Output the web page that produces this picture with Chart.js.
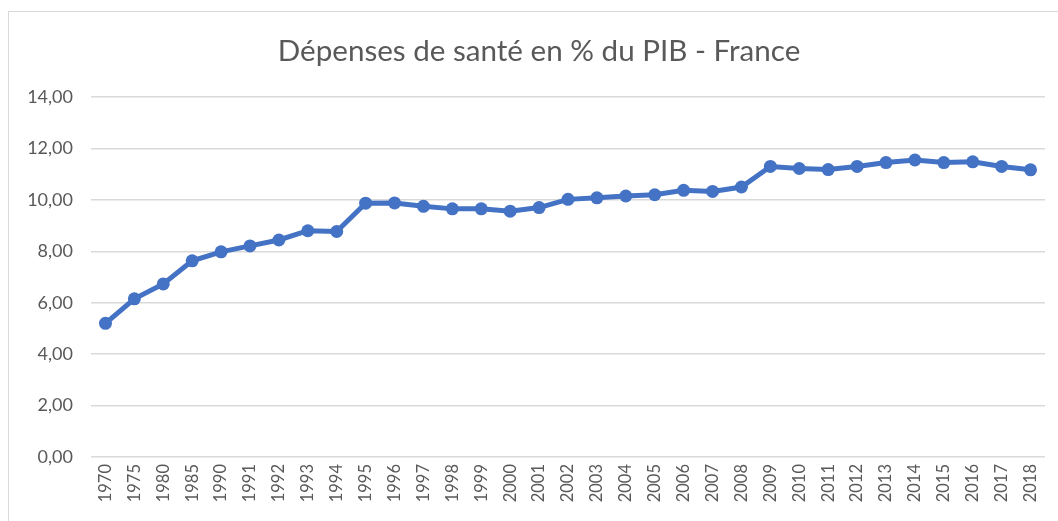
<!DOCTYPE html>
<html>
<head>
<meta charset="utf-8">
<script src="https://cdn.jsdelivr.net/npm/chart.js@4"></script>
<style>
  html, body { margin: 0; padding: 0; background: #fff; overflow: hidden; }
  #frame { position: absolute; left: 8px; top: 11px; width: 1200px; height: 700px; border: 1px solid #d9d9d9; box-sizing: border-box; }
  #wrap { position: absolute; left: 0; top: 0; width: 1058px; height: 521px; }
</style>
</head>
<body>
<div id="frame"></div>
<div id="wrap"><canvas id="c" width="1058" height="521"></canvas></div>
<script>
const titleText = "Dépenses de santé en % du PIB - France";
const years = ["1970","1975","1980","1985","1990","1991","1992","1993","1994","1995","1996","1997","1998","1999","2000","2001","2002","2003","2004","2005","2006","2007","2008","2009","2010","2011","2012","2013","2014","2015","2016","2017","2018"];
const healthSpending = [5.2,6.15,6.73,7.63,7.98,8.21,8.44,8.8,8.77,9.87,9.88,9.75,9.65,9.65,9.56,9.7,10.02,10.08,10.15,10.2,10.37,10.33,10.5,11.3,11.22,11.18,11.3,11.45,11.55,11.45,11.48,11.3,11.17];
const yMin = 0, yMax = 14, yStep = 2;

const gray = '#595959';
const fontFam = 'Lato, "Open Sans", sans-serif';

const titleShift = {
  id: 'titleShift',
  afterLayout(chart) {
    if (chart.titleBlock) { chart.titleBlock.left = 33; }
  }
};

new Chart(document.getElementById('c'), {
  type: 'line',
  data: {
    labels: years,
    datasets: [{
      data: healthSpending,
      borderColor: '#4472C4',
      backgroundColor: '#4472C4',
      borderWidth: 5,
      pointRadius: 6.5,
      pointHoverRadius: 6.5,
      pointBackgroundColor: '#4472C4',
      pointBorderWidth: 0,
      tension: 0
    }]
  },
  plugins: [titleShift],
  options: {
    responsive: false,
    animation: false,
    layout: { padding: { left: 0, right: 13, top: 0, bottom: 0 } },
    plugins: {
      legend: { display: false },
      tooltip: { enabled: false },
      title: {
        display: true,
        text: titleText,
        color: gray,
        font: { family: fontFam, size: 29.6, weight: 'normal' },
        padding: { top: 34, bottom: 27.5 }
      }
    },
    scales: {
      x: {
        offset: true,
        grid: { display: false, drawTicks: false },
        border: { display: false },
        ticks: {
          color: gray,
          font: { family: fontFam, size: 16.5 },
          minRotation: 90, maxRotation: 90,
          autoSkip: false,
          padding: 7
        },
        afterFit: (s) => { s.height = 64; }
      },
      y: {
        min: yMin, max: yMax,
        grid: { color: '#d9d9d9', lineWidth: 1.5, drawTicks: false },
        border: { display: false },
        ticks: {
          stepSize: yStep,
          color: gray,
          font: { family: fontFam, size: 18 },
          padding: 18,
          callback: (v) => v.toFixed(2).replace('.', ',')
        },
        afterFit: (s) => { s.width = 91; }
      }
    }
  }
});
</script>
</body>
</html>
